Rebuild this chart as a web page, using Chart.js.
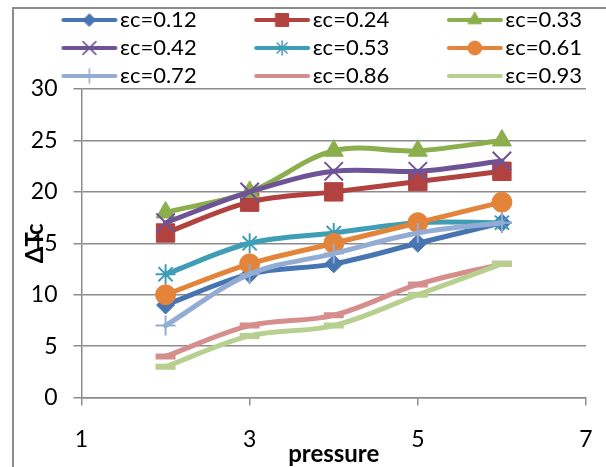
<!DOCTYPE html>
<html>
<head>
<meta charset="utf-8">
<script src="https://cdn.jsdelivr.net/npm/chart.js@4.4.0/dist/chart.umd.min.js"></script>
<style>
  html, body { margin: 0; padding: 0; background: #fff; }
  #wrap { position: relative; width: 606px; height: 467px; overflow: hidden; }
  #frame { position: absolute; left: 12px; top: 7px; width: 700px; height: 600px;
           border-left: 2px solid #8c8c8c; border-top: 2px solid #8c8c8c; }
  canvas { position: absolute; left: 0; top: 0; }
</style>
</head>
<body>
<div id="wrap">
  <div id="frame"></div>
  <canvas id="chart" width="606" height="467"></canvas>
</div>
<script>
// x values (pressure) shared by every series
const pressure = [2, 3, 4, 5, 6];

const seriesLabels = ["εc=0.12", "εc=0.24", "εc=0.33", "εc=0.42", "εc=0.53",
                      "εc=0.61", "εc=0.72", "εc=0.86", "εc=0.93"];

const ec012 = [9, 12, 13, 15, 17];
const ec024 = [16, 19, 20, 21, 22];
const ec033 = [18, 20, 24, 24, 25];
const ec042 = [17, 20, 22, 22, 23];
const ec053 = [12, 15, 16, 17, 17];
const ec061 = [10, 13, 15, 17, 19];
const ec072 = [7, 12, 14, 16, 17];
const ec086 = [4, 7, 8, 11, 13];
const ec093 = [3, 6, 7, 10, 13];

const seriesValues = [ec012, ec024, ec033, ec042, ec053, ec061, ec072, ec086, ec093];

const colors = ["#4775b2", "#b2423f", "#8cae4d", "#6e5497", "#3f9db6",
                "#e3843a", "#93acd4", "#d68e8d", "#b7d08f"];
const markers = [
  { style: "rectRot", r: 9, bw: 1 },
  { style: "rect", r: 13, bw: 1 },
  { style: "triangle", r: 11, bw: 1 },
  { style: "crossRot", r: 13, bw: 2 },
  { style: "star", r: 10, bw: 2 },
  { style: "circle", r: 10, bw: 1 },
  { style: "cross", r: 10, bw: 2 },
  { style: "line", r: 10, bw: 6 },
  { style: "line", r: 10, bw: 6 }
];

const FONT = "Lato, 'Open Sans', 'DejaVu Sans', sans-serif";

const datasets = seriesValues.map((vals, i) => ({
  label: seriesLabels[i],
  data: pressure.map((p, j) => ({ x: p, y: vals[j] })),
  borderColor: colors[i],
  backgroundColor: colors[i],
  borderWidth: 5,
  borderCapStyle: "round",
  borderJoinStyle: "round",
  tension: 0.35,
  fill: false,
  pointStyle: markers[i].style,
  pointRadius: markers[i].r,
  pointBorderWidth: markers[i].bw,
  pointBackgroundColor: colors[i],
  pointBorderColor: colors[i],
  order: seriesValues.length - i
}));

// legend sample: a short line with a smaller marker in the middle
function legendImage(ds) {
  const c = document.createElement("canvas");
  c.width = 130;
  c.height = 30;
  const g = c.getContext("2d");
  const y = 15;
  g.strokeStyle = ds.borderColor;
  g.lineWidth = 4;
  g.lineCap = "round";
  g.beginPath();
  g.moveTo(69, y);
  g.lineTo(121, y);
  g.stroke();
  g.fillStyle = ds.pointBackgroundColor;
  g.strokeStyle = ds.pointBorderColor;
  const bw = ds.pointStyle === "line" ? 4 : Math.max(1, ds.pointBorderWidth * 0.8);
  g.lineWidth = bw;
  if (Chart.helpers && Chart.helpers.drawPoint) {
    Chart.helpers.drawPoint(g, {
      pointStyle: ds.pointStyle,
      radius: ds.pointRadius * 0.7,
      rotation: 0,
      borderWidth: bw
    }, 95, y);
  }
  return c;
}
const legendImages = datasets.map(legendImage);

// let three items fit on a row and pull the plot up under the legend
const legendTweak = {
  id: "legendTweak",
  beforeInit(chart) {
    const fit = chart.legend.fit;
    chart.legend.fit = function () {
      this.maxWidth += 40;
      fit.bind(chart.legend)();
      this.height -= 8;
    };
  }
};

const ctx = document.getElementById("chart").getContext("2d");
new Chart(ctx, {
  type: "line",
  data: { datasets: datasets },
  plugins: [legendTweak],
  options: {
    responsive: false,
    animation: false,
    devicePixelRatio: 1,
    layout: { padding: { top: 3, left: 0, right: 14, bottom: 0 } },
    plugins: {
      tooltip: { enabled: false },
      legend: {
        position: "top",
        labels: {
          usePointStyle: true,
          pointStyleWidth: 99,
          boxHeight: 22,
          padding: 6,
          color: "#000",
          font: { family: FONT, size: 22 },
          generateLabels(chart) {
            return chart.data.datasets.map((ds, i) => ({
              text: ds.label,
              pointStyle: legendImages[i],
              datasetIndex: i,
              fontColor: "#000",
              lineWidth: 0,
              hidden: false,
              fillStyle: "transparent",
              strokeStyle: "transparent"
            }));
          }
        }
      }
    },
    scales: {
      x: {
        type: "linear",
        min: 1,
        max: 7,
        afterFit(axis) {
          axis.paddingRight = 20;
        },
        ticks: { stepSize: 2, padding: 20, color: "#000", font: { family: FONT, size: 23 } },
        grid: { drawOnChartArea: false, drawTicks: true, tickLength: 8, color: "#8c8c8c", lineWidth: 1.5 },
        border: { color: "#8c8c8c", width: 1.5 },
        title: {
          display: true,
          text: "pressure",
          color: "#000",
          font: { family: FONT, size: 24, weight: "bold" },
          padding: { top: -33, bottom: -2 }
        }
      },
      y: {
        min: 0,
        max: 30,
        ticks: { stepSize: 5, padding: 16, color: "#000", font: { family: FONT, size: 23 } },
        grid: { color: "#8c8c8c", lineWidth: 1.5, drawTicks: true, tickLength: 8 },
        border: { color: "#8c8c8c", width: 1.5 },
        title: {
          display: true,
          text: "ΔTc",
          color: "#000",
          font: { family: FONT, size: 24, weight: "bold" },
          padding: { top: 21, bottom: -35 }
        }
      }
    }
  }
});
</script>
</body>
</html>
